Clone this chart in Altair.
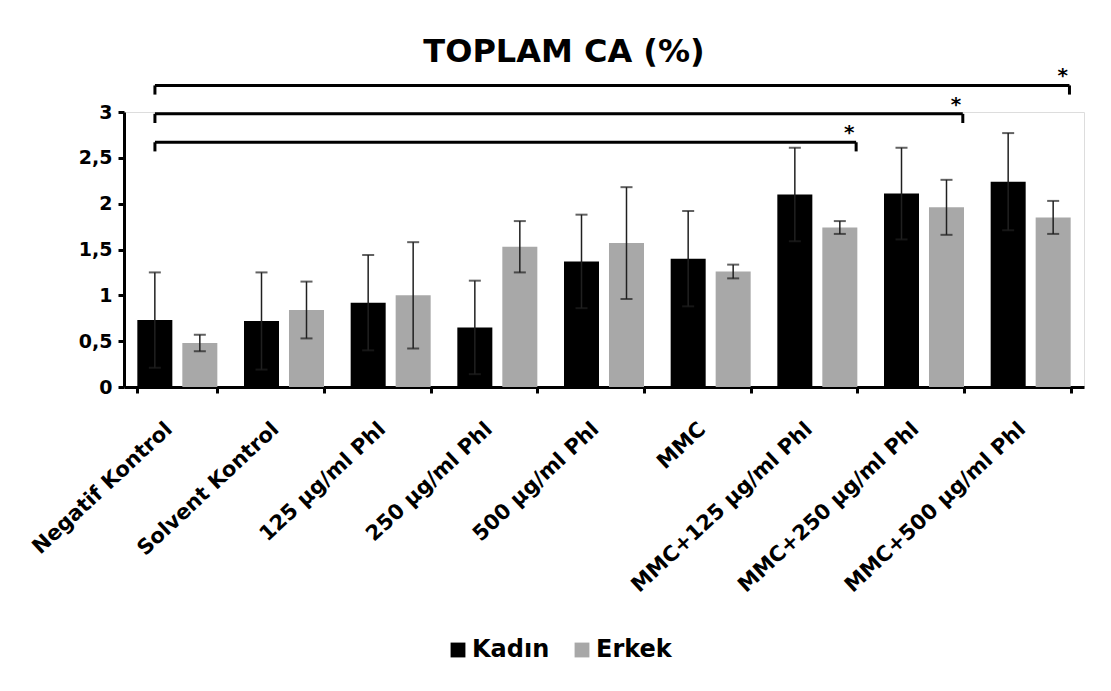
import altair as alt
import pandas as pd

categories = ["Negatif Kontrol", "Solvent Kontrol", "125 µg/ml Phl", "250 µg/ml Phl",
              "500 µg/ml Phl", "MMC", "MMC+125 µg/ml Phl", "MMC+250 µg/ml Phl",
              "MMC+500 µg/ml Phl"]
series = ["Kadın", "Erkek"]
kadin = [0.73, 0.72, 0.92, 0.65, 1.37, 1.40, 2.10, 2.11, 2.24]
kadin_err = [0.52, 0.53, 0.52, 0.51, 0.51, 0.52, 0.51, 0.50, 0.53]
erkek = [0.48, 0.84, 1.00, 1.53, 1.57, 1.26, 1.74, 1.96, 1.85]
erkek_err = [0.09, 0.31, 0.58, 0.28, 0.61, 0.075, 0.07, 0.30, 0.18]

bracket_start = ["Negatif Kontrol", "Negatif Kontrol", "Negatif Kontrol"]
bracket_end = ["MMC+125 µg/ml Phl", "MMC+250 µg/ml Phl", "MMC+500 µg/ml Phl"]
bracket_level = [2.67, 2.98, 3.29]
bracket_label = ["*", "*", "*"]

FONT = "DejaVu Sans"

rows = []
for i, c in enumerate(categories):
    rows.append(dict(cat=c, grp=series[0], val=kadin[i], err=kadin_err[i]))
    rows.append(dict(cat=c, grp=series[1], val=erkek[i], err=erkek_err[i]))
df = pd.DataFrame(rows)
df["lo"] = df["val"] - df["err"]
df["hi"] = df["val"] + df["err"]

bdf = pd.DataFrame(dict(start=bracket_start, end=bracket_end, level=bracket_level,
                        label=bracket_label))
bdf["low"] = bdf["level"] - 0.1

xscale = alt.Scale(domain=categories, paddingInner=0.25, paddingOuter=0.125)
yscale = alt.Scale(domain=[0, 3], nice=False)

xaxis = alt.Axis(title=None, labelAngle=-43, labelFont=FONT, labelFontSize=21,
                 labelFontWeight="bold", labelColor="black", domainColor="black",
                 domainWidth=3, tickColor="black", tickWidth=3, tickSize=6,
                 tickBand="extent", labelPadding=25, labelOffset=-16, labelLimit=0)
yaxis = alt.Axis(title=None, values=[0, 0.5, 1, 1.5, 2, 2.5, 3], grid=False,
                 labelExpr="replace(toString(datum.value), '.', ',')",
                 labelFont=FONT, labelFontSize=19, labelFontWeight="bold",
                 labelColor="black", domainColor="black", domainWidth=3,
                 tickColor="black", tickWidth=3, tickSize=6, labelPadding=6)

base = alt.Chart(df)
xo = alt.XOffset("grp:N", sort=series, scale=alt.Scale(domain=series, paddingInner=0.222))

bars = base.mark_bar().encode(
    x=alt.X("cat:N", scale=xscale, axis=xaxis, sort=categories),
    xOffset=xo,
    y=alt.Y("val:Q", scale=yscale, axis=yaxis),
    color=alt.Color("grp:N", sort=series,
                    scale=alt.Scale(domain=series, range=["#000000", "#a8a8a8"]),
                    legend=alt.Legend(title=None, orient="none", direction="horizontal",
                                      legendX=322, legendY=526,
                                      symbolType="square", symbolSize=220,
                                      symbolStrokeWidth=0, labelFont=FONT,
                                      labelFontSize=24, labelFontWeight="bold",
                                      labelColor="black", columnPadding=20,
                                      labelOffset=2)),
)

ERR = "#202020"
err_rule = base.mark_rule(color=ERR, strokeWidth=1.5).encode(
    x=alt.X("cat:N", scale=xscale, sort=categories),
    xOffset=xo,
    y=alt.Y("lo:Q", scale=yscale),
    y2="hi:Q",
)
cap_hi = base.mark_tick(color=ERR, thickness=2, size=12, orient="horizontal").encode(
    x=alt.X("cat:N", scale=xscale, sort=categories),
    xOffset=xo,
    y=alt.Y("hi:Q", scale=yscale),
)
cap_lo = base.mark_tick(color=ERR, thickness=2, size=12, orient="horizontal").encode(
    x=alt.X("cat:N", scale=xscale, sort=categories),
    xOffset=xo,
    y=alt.Y("lo:Q", scale=yscale),
)

bb = alt.Chart(bdf)
hline = bb.mark_rule(color="black", strokeWidth=3).encode(
    x=alt.X("start:N", scale=xscale, bandPosition=0.22),
    x2=alt.X2("end:N", bandPosition=0.985),
    y=alt.Y("level:Q", scale=yscale),
)
lt = bb.mark_rule(color="black", strokeWidth=3).encode(
    x=alt.X("start:N", scale=xscale, bandPosition=0.22),
    y=alt.Y("level:Q", scale=yscale),
    y2="low:Q",
)
rt = bb.mark_rule(color="black", strokeWidth=3).encode(
    x=alt.X("end:N", scale=xscale, bandPosition=0.985),
    y=alt.Y("level:Q", scale=yscale),
    y2="low:Q",
)
star = bb.mark_text(font=FONT, fontSize=20, fontWeight="bold", dy=-9,
                    baseline="middle", color="black").encode(
    x=alt.X("end:N", scale=xscale, bandPosition=0.9),
    y=alt.Y("level:Q", scale=yscale),
    text="label:N",
)

chart = alt.layer(bars, err_rule, cap_hi, cap_lo, hline, lt, rt, star).properties(
    width=960, height=275,
    title=alt.TitleParams("TOPLAM CA (%)", font=FONT, fontSize=32,
                          fontWeight="bold", color="black", anchor="middle",
                          frame="group", dx=-40, offset=-3),
    padding={"left": 20, "top": 28, "right": 10, "bottom": 10},
).configure_view(stroke=None).configure(background="white")

chart.save("out.html", embed_options={"renderer": "svg", "actions": False})
